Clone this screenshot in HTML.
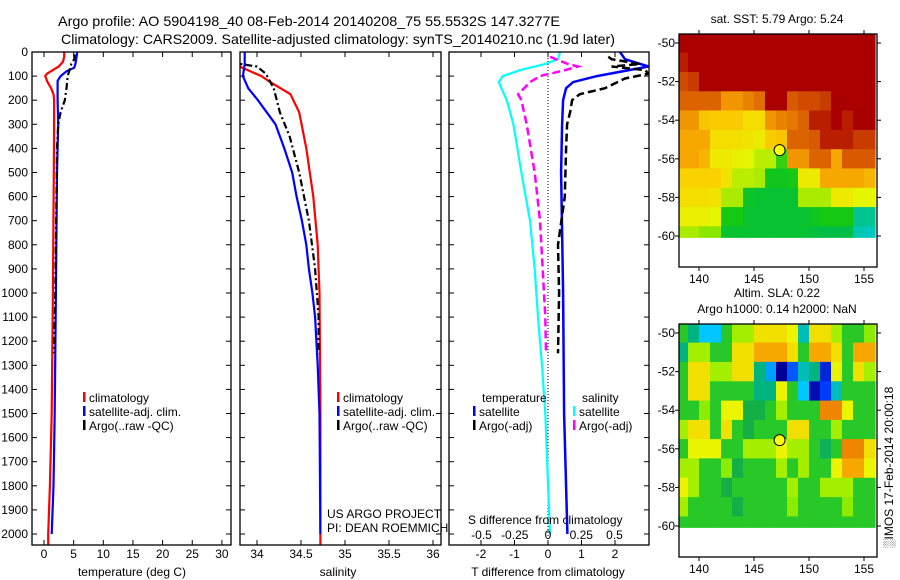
<!DOCTYPE html>
<html><head><meta charset="utf-8">
<style>
html,body{margin:0;padding:0;background:#fff;}
svg{display:block;font-family:"Liberation Sans",sans-serif;}
</style></head>
<body>
<svg id="chart" width="900" height="580" viewBox="0 0 900 580" xmlns="http://www.w3.org/2000/svg">
<rect width="900" height="580" fill="#fff"/>
<text x="58" y="26" font-size="14" textLength="502" lengthAdjust="spacingAndGlyphs">Argo profile: AO 5904198_40 08-Feb-2014 20140208_75 55.5532S 147.3277E</text>
<text x="61" y="44" font-size="14" textLength="554" lengthAdjust="spacingAndGlyphs">Climatology: CARS2009. Satellite-adjusted climatology: synTS_20140210.nc (1.9d later)</text>
<g id="g"></g>
</svg>
<script>
// ---------- data ----------
const depthTicks = [0,100,200,300,400,500,600,700,800,900,1000,1100,1200,1300,1400,1500,1600,1700,1800,1900,2000];
const tTicks = [0,5,10,15,20,25,30];
const sTicks = [34,34.5,35,35.5,36];
const sTickLabels = ["34","34.5","35","35.5","36"];
const dtTicks = [-2,-1,0,1,2];
const dsTicks = [-0.5,-0.25,0,0.25,0.5];
const dsTickLabels = ["-0.5","-0.25","0","0.25","0.5"];

const climTDepth = [0,20,40,60,75,90,100,125,150,175,200,300,500,1000,1500,1800,2000,2050];
const climT =      [3.4,3.4,3.2,2.5,1.5,0.5,0.2,0.6,1.2,1.6,1.7,1.7,1.65,1.5,1.3,1.0,0.7,0.7];
const satTDepth = [0,20,50,65,80,100,120,200,300,500,1000,1500,1800,2000];
const satT =      [5.6,5.5,5.3,5.1,3.8,2.8,2.3,2.3,2.4,2.2,2.0,1.8,1.6,1.3];
const argoTDepth = [10,30,50,75,100,150,200,250,300,400,600,1000,1250];
const argoT =      [5.2,5.1,4.6,4.3,4.0,3.8,3.5,2.8,2.4,2.2,2.1,1.9,1.7];

const climSDepth = [0,60,100,125,175,250,400,600,800,1000,1500,2000,2050];
const climS =      [33.8,33.8,34.05,34.15,34.38,34.48,34.56,34.64,34.69,34.71,34.72,34.72,34.72];
const satSDepth = [0,50,100,150,200,300,400,500,600,700,800,900,1000,1100,1300,1500,2000];
const satS =      [33.86,33.86,33.84,33.9,34.01,34.21,34.31,34.4,34.45,34.51,34.56,34.59,34.63,34.66,34.69,34.71,34.72];
const argoSDepth = [10,50,60,90,150,250,350,500,700,900,1100,1250];
const argoS =      [33.78,33.81,34.0,34.1,34.19,34.26,34.37,34.48,34.59,34.66,34.7,34.7];

const dTsatDepth = [0,30,60,100,125,150,200,300,500,1000,1500,2000];
const dTsat =      [2.15,2.3,3.0,1.46,0.75,0.54,0.45,0.42,0.39,0.45,0.48,0.58];
const dTargoDepth = [20,30,50,60,75,90,110,150,175,200,250,300,400,600,800,1000,1250];
const dTargo =      [1.8,1.9,2.75,1.9,2.9,3.0,2.3,1.7,0.95,0.72,0.66,0.57,0.54,0.5,0.3,0.33,0.3];
const dSsatDepth = [0,30,50,75,100,125,150,200,300,500,700,900,1100,1300,1500,2000];
const dSsat =      [0.09,0.075,-0.02,-0.21,-0.34,-0.37,-0.35,-0.31,-0.26,-0.2,-0.135,-0.1,-0.075,-0.045,-0.02,0.015];
const dSargoDepth = [20,50,60,75,100,125,150,175,200,300,500,700,900,1100,1250];
const dSargo =      [0.015,0.15,0.225,0.13,-0.06,-0.135,-0.18,-0.225,-0.2,-0.16,-0.1,-0.06,-0.04,-0.02,-0.015];

const mapLonTicks = [140,145,150,155];
const mapLatTicks = [-50,-52,-54,-56,-58,-60];
const gridLon0 = 138; // first cell west edge, 1 deg cells
const gridLat0 = -49.5; // first row north edge, 1 deg rows
const sst = [
[9.5,9.5,9.5,9.5,9.5,9.5,9.5,9.5,9.5,9.5,9.5,9.5,9.5,9.5,9.5,9.5,9.5,9.5],
[9.0,9.3,9.5,9.5,9.5,9.5,9.5,9.5,9.5,9.5,9.5,9.5,9.5,9.5,9.5,9.5,9.5,9.5],
[8.7,8.8,9.2,9.5,9.5,9.5,9.5,9.5,9.5,9.5,9.5,9.5,9.5,9.5,9.5,9.5,9.5,9.5],
[8.5,8.5,8.5,8.5,8.0,8.0,8.2,8.4,9.5,9.5,8.6,8.7,8.7,8.8,9.2,9.2,9.2,9.2],
[8.0,8.0,7.4,7.3,7.3,7.3,7.0,7.0,8.0,8.2,8.3,8.5,9.0,9.0,9.2,9.0,9.2,9.2],
[7.8,7.8,7.8,7.0,7.0,7.0,6.9,6.8,7.3,7.4,8.5,8.5,8.6,9.0,9.0,9.0,8.8,8.8],
[7.8,7.8,7.6,6.8,6.8,6.7,6.6,6.3,6.3,5.5,8.0,8.0,8.5,8.5,7.8,8.6,8.6,8.6],
[7.2,7.2,7.2,7.2,6.9,6.3,6.3,6.2,5.2,5.2,5.3,6.8,6.8,7.8,7.8,7.8,7.8,7.6],
[7.0,7.0,7.0,6.9,6.2,6.2,5.1,5.0,5.0,5.0,5.0,6.2,6.2,6.2,6.8,6.8,6.6,6.6],
[6.7,6.7,6.7,6.6,5.3,5.3,5.0,5.0,5.0,5.0,5.0,5.0,5.2,5.3,5.3,5.3,4.3,4.3],
[6.2,6.2,6.0,6.0,5.0,5.0,5.0,5.0,5.0,5.0,5.0,5.0,4.9,4.8,4.8,4.8,4.1,4.0]
];
const sla = [
[0,-0.05,-0.12,-0.12,0,0.05,0.05,0.1,0.1,0.1,0.08,-0.08,0.1,0.1,0.05,0,0,0.04],
[-0.05,0.05,0.05,0,0,0.1,0.1,0.15,0.15,0.15,0.1,0,0.15,0.15,0.1,0,0.15,0.15],
[0,0.1,0.1,0.05,0.05,0.1,0.1,-0.05,-0.15,-0.3,-0.2,-0.08,-0.05,-0.25,0.08,0,0.1,0.05],
[0,0.1,0.1,0,0,0,0,-0.05,-0.05,0.08,0,-0.12,-0.28,-0.22,-0.08,0,0,0],
[0,0,0.04,0,0.08,0.08,-0.02,-0.02,0,0.05,0,0,0,0.18,0.18,0.08,0,0],
[0.05,0.1,0.1,0,0.1,0,-0.02,0,0,0,0.1,0.1,0,0,0.05,0,0,0],
[0,0.08,0.08,0.08,0,0,0.05,0.05,0.05,0.08,0.05,0.05,0,-0.03,0,0.18,0.18,0.1],
[0.05,0.05,0,0,0.04,-0.02,0,0,0,0.05,0,0.05,0,0,0.08,0.15,0.15,0.08],
[0.08,0.05,0,0,-0.02,0,0,0,0,0,0.05,0,0,0.05,0.05,0.05,0,0],
[0.05,0,0,0,0,-0.02,0,0,0,0,0.04,0,0,0,0,0.04,0,0],
[0,0,0,0,0,0,0,0,0,0,0,0,0,0,0,0,0,0]
];
const argoLon = 147.3277, argoLat = -55.5532;

// ---------- helpers ----------
const NS = "http://www.w3.org/2000/svg";
const root = document.getElementById('g');
function mk(tag, attrs, parent){ const e=document.createElementNS(NS,tag); for(const k in attrs) e.setAttribute(k,attrs[k]); (parent||root).appendChild(e); return e; }
function txt(x,y,s,anchor,size,parent){ const e=mk('text',{x:x,y:y,'font-size':size||12,'text-anchor':anchor||'start'},parent); e.textContent=s; return e; }

const Y0=52, YB=545;
const yD = d => Y0 + d*0.241;
const xT = v => 44 + v*5.93;
const xS = v => 345 + (v-35)*88;
const xDT = v => 548 + v*33.5;
const xDS = v => 548 + v*133;

function panel(x0,x1,name){
  const g=mk('g',{});
  
  
  const cp=mk('clipPath',{id:'cp-'+name},g);
  mk('rect',{x:x0,y:Y0,width:x1-x0,height:YB-Y0},cp);
  depthTicks.forEach(d=>{
    mk('line',{x1:x0,x2:x0+5,y1:yD(d),y2:yD(d),stroke:'#000'},g);
    mk('line',{x1:x1-5,x2:x1,y1:yD(d),y2:yD(d),stroke:'#000'},g);
  });
  return g;
}
function frame(g,x0,x1){ mk('rect',{x:x0,y:Y0,width:x1-x0,height:YB-Y0,fill:'none',stroke:'#000','stroke-width':1.3},g); }
function xticks(g,vals,fx){ vals.forEach(v=>{ mk('line',{x1:fx(v),x2:fx(v),y1:YB,y2:YB-5,stroke:'#000'},g); mk('line',{x1:fx(v),x2:fx(v),y1:Y0,y2:Y0+5,stroke:'#000'},g); }); }
function line(g,name,depths,vals,fx,color,dash,width,clip){
  const p=depths.map((d,i)=>fx(vals[i]).toFixed(1)+','+yD(d).toFixed(1)).join(' ');
  const e=mk('polyline',{points:p,fill:'none',stroke:color,'stroke-width':width||2,'clip-path':'url(#cp-'+clip+')'},g);
  if(dash) e.setAttribute('stroke-dasharray',dash);
  
  
  return e;
}
function legendEntry(g,x,y,color,label,name){
  mk('rect',{x:x,y:y-10,width:2.5,height:10,fill:color},g);
  const t=txt(x+6,y,label,'start',12,g);
  
  
}

// ---------- panel 1: temperature ----------
const p1=panel(32,231,'temperature-panel');
depthTicks.forEach(d=>{ const t=txt(28,yD(d)+4,String(d),'end',12,p1);   });
xticks(p1,tTicks,xT);
tTicks.forEach(v=>txt(xT(v),558,String(v),'middle',12,p1));
line(p1,'temp-climatology-line',climTDepth,climT,xT,'#f00',null,2.2,'temperature-panel');
line(p1,'temp-satellite-line',satTDepth,satT,xT,'#00f',null,2.2,'temperature-panel');
line(p1,'temp-argo-line',argoTDepth,argoT,xT,'#000','7,3,2,3',2.2,'temperature-panel');
frame(p1,32,231);
legendEntry(p1,83,402,'#f00','climatology','legend-climatology');
legendEntry(p1,83,416,'#00f','satellite-adj. clim.','legend-satellite');
legendEntry(p1,83,430,'#000','Argo(..raw -QC)','legend-argo');
const xt1=txt(132,576,'temperature (deg C)','middle',12,p1);  

// ---------- panel 2: salinity ----------
const p2=panel(240,441,'salinity-panel');
xticks(p2,sTicks,xS);
sTicks.forEach((v,i)=>txt(xS(v),558,sTickLabels[i],'middle',12,p2));
line(p2,'sal-climatology-line',climSDepth,climS,xS,'#f00',null,2.2,'salinity-panel');
line(p2,'sal-satellite-line',satSDepth,satS,xS,'#00f',null,2.2,'salinity-panel');
line(p2,'sal-argo-line',argoSDepth,argoS,xS,'#000','7,3,2,3',2.2,'salinity-panel');
frame(p2,240,441);
legendEntry(p2,337,402,'#f00','climatology','legend-climatology-2');
legendEntry(p2,337,416,'#00f','satellite-adj. clim.','legend-satellite-2');
legendEntry(p2,337,430,'#000','Argo(..raw -QC)','legend-argo-2');
txt(327,518,'US ARGO PROJECT','start',12,p2);
txt(327,532,'PI: DEAN ROEMMICH','start',12,p2);
const xt2=txt(338,576,'salinity','middle',12,p2);  

// ---------- panel 3: differences ----------
const p3=panel(449,649,'difference-panel');
xticks(p3,dtTicks,xDT);
dtTicks.forEach(v=>txt(xDT(v),558,String(v),'middle',12,p3));
mk('line',{x1:xDT(0),x2:xDT(0),y1:Y0,y2:YB,stroke:'#000','stroke-dasharray':'1,2'},p3);
line(p3,'dS-satellite-line',dSsatDepth,dSsat,xDS,'#0ff',null,2.2,'difference-panel');
line(p3,'dS-argo-line',dSargoDepth,dSargo,xDS,'#f0f','8,4',2.5,'difference-panel');
line(p3,'dT-satellite-line',dTsatDepth,dTsat,xDT,'#00f',null,2.5,'difference-panel');
line(p3,'dT-argo-line',dTargoDepth,dTargo,xDT,'#000','8,4',2.5,'difference-panel');
frame(p3,449,649);
txt(482,402,'temperature','start',12,p3);
legendEntry(p3,473,416,'#00f','satellite','legend-dt-satellite');
legendEntry(p3,473,430,'#000','Argo(-adj)','legend-dt-argo');
txt(582,402,'salinity','start',12,p3);
legendEntry(p3,573,416,'#0ff','satellite','legend-ds-satellite');
legendEntry(p3,573,430,'#f0f','Argo(-adj)','legend-ds-argo');
txt(468,524,'S difference from climatology','start',12,p3);
dsTicks.forEach((v,i)=>txt(xDS(v),539,dsTickLabels[i],'middle',12,p3));
const xt3=txt(548,576,'T difference from climatology','middle',12,p3);  

// ---------- maps ----------
function colSST(v){
  const stops=[[4.0,[0,200,190]],[4.8,[0,190,70]],[5.3,[20,200,20]],[6.0,[140,230,0]],[6.6,[230,245,0]],[7.2,[250,210,0]],[7.9,[245,160,0]],[8.6,[215,90,0]],[9.2,[170,0,0]]];
  return interp(stops,v);
}
function colSLA(v){
  const stops=[[-0.3,[0,0,150]],[-0.22,[0,60,255]],[-0.12,[0,200,255]],[-0.05,[0,180,130]],[-0.02,[20,175,70]],[0,[40,200,40]],[0.04,[140,235,0]],[0.08,[235,245,0]],[0.13,[250,190,0]],[0.2,[235,110,0]]];
  return interp(stops,v);
}
function interp(stops,v){
  if(v<=stops[0][0]) return 'rgb('+stops[0][1]+')';
  for(let i=1;i<stops.length;i++){ if(v<=stops[i][0]){ const a=stops[i-1],b=stops[i],t=(v-a[0])/(b[0]-a[0]); return 'rgb('+a[1].map((c,k)=>Math.round(c+(b[1][k]-c)*t)).join(',')+')'; } }
  return 'rgb('+stops[stops.length-1][1]+')';
}
function drawMap(top,grid,colf,name,titles){
  const mx0=679,mx1=877,my0=top,my1=top+233;
  const xL = lon => 699 + (lon-140)*11;
  const yL = lat => top + 9 + (-50-lat)*19.3;
  const g=mk('g',{});
  
  
  const cid='cp-'+name;
  const cp=mk('clipPath',{id:cid},g);
  mk('rect',{x:mx0,y:my0,width:mx1-mx0,height:yL(-60.1)-my0},cp);
  const cells=mk('g',{'clip-path':'url(#'+cid+')'},g);
  grid.forEach((row,r)=>row.forEach((v,c)=>{
    const x=xL(gridLon0+c), y=yL(gridLat0-r);
    const e=mk('rect',{x:x.toFixed(1),y:y.toFixed(1),width:11.6,height:20,fill:colf(v)},cells);
    
    
  }));
  mk('rect',{x:mx0,y:my0,width:mx1-mx0,height:my1-my0,fill:'none',stroke:'#000','stroke-width':1.3},g);
  mapLonTicks.forEach(l=>{ mk('line',{x1:xL(l),x2:xL(l),y1:my1,y2:my1+4,stroke:'#000'},g); mk('line',{x1:xL(l),x2:xL(l),y1:my0,y2:my0-4,stroke:'#000'},g); txt(xL(l),my1+16,String(l),'middle',12,g); });
  mapLatTicks.forEach(l=>{ mk('line',{x1:mx0,x2:mx0-4,y1:yL(l),y2:yL(l),stroke:'#000'},g); mk('line',{x1:mx1,x2:mx1+4,y1:yL(l),y2:yL(l),stroke:'#000'},g); txt(mx0-4,yL(l)+4,String(l),'end',12,g); });
  const c=mk('circle',{cx:xL(argoLon),cy:yL(argoLat),r:5.5,fill:'#ff0',stroke:'#000','stroke-width':1},g);
  
  
  titles.forEach((t,i)=>{
    const ty = titles.length===1 ? top-11 : top-27+i*16;
    txt(777,ty,t,'middle',12,g);
  });
}
drawMap(34,sst,colSST,'sst-map',['sat. SST: 5.79 Argo: 5.24']);
drawMap(324,sla,colSLA,'sla-map',['Altim. SLA: 0.22','Argo h1000: 0.14 h2000: NaN']);
const imos=mk('text',{x:0,y:0,'font-size':12,transform:'translate(893,548) rotate(-90)'});
imos.textContent='\u2591IMOS 17-Feb-2014 20:00:18';


</script>
</body></html>
